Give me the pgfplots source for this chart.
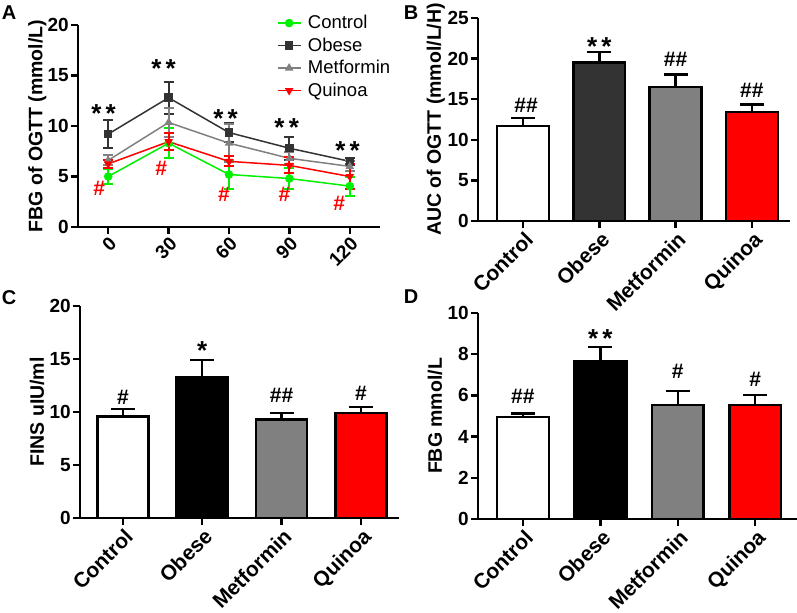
\documentclass[border=0pt]{standalone}
\usepackage{fontspec}
\setmainfont{Liberation Sans}
\usepackage{pgfplots}
\pgfplotsset{compat=1.18}
\definecolor{cgreen}{RGB}{0,240,0}
\definecolor{cobese}{RGB}{51,51,51}
\definecolor{cmet}{RGB}{128,128,128}
\definecolor{cred}{RGB}{255,0,0}
\newcommand{\tf}{\bfseries\fontsize{19bp}{21bp}\selectfont}
\newcommand{\hf}{\bfseries\fontsize{21bp}{23bp}\selectfont}
\newcommand{\lf}{\bfseries\fontsize{19.5bp}{21bp}\selectfont}
\newcommand{\cf}{\bfseries\fontsize{21bp}{23bp}\selectfont}
\newcommand{\af}{\bfseries\fontsize{26bp}{26bp}\selectfont}
\newcommand{\gf}{\fontsize{18.5bp}{20bp}\selectfont}
\pgfplotsset{
  panel/.style={
    scale only axis,
    axis x line*=bottom, axis y line*=left,
    axis line style={line width=2.5bp, black},
    tick style={line width=2.5bp, black},
    major tick length=7bp,
    tick align=outside,
    /pgf/number format/assume math mode=true,
    yticklabel style={font=\tf, inner sep=2bp},
    every axis y label/.style={at={(axis description cs:-0.135,0.5)}, rotate=90, anchor=center, font=\lf},
    clip=false,
  },
  barpanel/.style={
    panel,
    xtick={0,1,2,3},
    xticklabels={Control,Obese,Metformin,Quinoa},
    xticklabel style={font=\cf, rotate=45, anchor=north east, inner sep=1bp, yshift=-1bp},
  },
  bar/.style={ybar, bar shift=0pt, bar width=#1, draw=black, line width=2.5bp,
    error bars/y dir=plus, error bars/y explicit,
    error bars/error bar style={line width=2.5bp, black},
    error bars/error mark options={rotate=90, line width=2.5bp, black, mark size=12bp}},
  ser/.style={line width=1.5bp, mark size=3.5bp,
    error bars/y dir=both, error bars/y explicit,
    error bars/error bar style={line width=2bp},
    error bars/error mark options={rotate=90, line width=2bp, mark size=5bp}},
}
\begin{document}
\begin{tikzpicture}
\path[use as bounding box] (0,0) rectangle (797bp,-613bp);
% panel letters
\node[font=\bfseries\fontsize{20bp}{22bp}\selectfont] at (9bp,-13bp) {A};
\node[font=\bfseries\fontsize{20bp}{22bp}\selectfont] at (411bp,-13bp) {B};
\node[font=\bfseries\fontsize{20bp}{22bp}\selectfont] at (9bp,-298bp) {C};
\node[font=\bfseries\fontsize{20bp}{22bp}\selectfont] at (411bp,-297bp) {D};

% ---------- Panel A ----------
\begin{axis}[panel,
  at={(78bp,-227bp)}, anchor=south west, width=302bp, height=202bp,
  xmin=-15, xmax=135, ymin=0, ymax=20,
  xtick={0,30,60,90,120}, ytick={0,5,10,15,20},
  xticklabel style={font=\tf, rotate=45, anchor=north east, inner sep=1bp},
  ylabel={FBG of OGTT (mmol/L)},
  legend style={draw=none, fill=none, at={(0.658,1.055)}, anchor=north west,
    row sep=4.6bp, column sep=5bp, inner sep=0pt,
    nodes={inner sep=1.5bp}},
  legend cell align=left,
  legend image code/.code={\draw[mark repeat=2,mark phase=2,#1] plot coordinates {(0bp,0bp) (11.5bp,0bp) (23bp,0bp)};},
]
\addplot[ser, color=cgreen, mark=*] coordinates {
 (0,5.0) +- (0,0.7) (30,8.3) +- (0,1.5) (60,5.2) +- (0,1.4) (90,4.8) +- (0,1.0) (120,4.05) +- (0,0.95)};
\addlegendentry{\gf Control}
\addplot[ser, color=cobese, mark=square*] coordinates {
 (0,9.2) +- (0,1.35) (30,12.8) +- (0,1.6) (60,9.35) +- (0,0.9) (90,7.8) +- (0,1.15) (120,6.5) +- (0,0.35)};
\addlegendentry{\gf Obese}
\addplot[ser, color=cmet, mark=triangle*] coordinates {
 (0,6.6) +- (0,0.5) (30,10.35) +- (0,1.4) (60,8.3) +- (0,1.9) (90,6.8) +- (0,0.6) (120,6.0) +- (0,0.5)};
\addlegendentry{\gf Metformin}
\addplot[ser, color=cred, mark=triangle*, mark options={rotate=180}] coordinates {
 (0,6.25) +- (0,0.4) (30,8.45) +- (0,0.85) (60,6.5) +- (0,0.5) (90,6.1) +- (0,0.8) (120,5.0) +- (0,1.2)};
\addlegendentry{\gf Quinoa}
\node[font=\af] at (axis cs:-2.3,11.2) {*\,*};
\node[font=\af] at (axis cs:27.5,15.7) {*\,*};
\node[font=\af] at (axis cs:58.3,10.7) {*\,*};
\node[font=\af] at (axis cs:88.7,9.8) {*\,*};
\node[font=\af] at (axis cs:118.9,7.6) {*\,*};
\node[font=\hf, text=cred] at (axis cs:-4.5,3.8) {\#};
\node[font=\hf, text=cred] at (axis cs:26.3,5.8) {\#};
\node[font=\hf, text=cred] at (axis cs:57.5,3.2) {\#};
\node[font=\hf, text=cred] at (axis cs:87.5,3.2) {\#};
\node[font=\hf, text=cred] at (axis cs:114.7,2.35) {\#};
\end{axis}

% ---------- Panel B ----------
\begin{axis}[barpanel,
  at={(478bp,-221bp)}, anchor=south west, width=312bp, height=203bp,
  xmin=-0.59, xmax=3.5, ymin=0, ymax=25, ytick={0,5,...,25},
  ylabel={AUC of OGTT (mmol/L/H)},
]
\addplot[bar=0.68, fill=white] coordinates {(0,11.7) +- (0,1.0)};
\addplot[bar=0.68, fill=cobese] coordinates {(1,19.5) +- (0,1.3)};
\addplot[bar=0.68, fill=cmet] coordinates {(2,16.5) +- (0,1.55)};
\addplot[bar=0.68, fill=cred] coordinates {(3,13.4) +- (0,0.95)};
\node[font=\hf] at (axis cs:0.04,14.3) {\#\#};
\node[font=\af] at (axis cs:1,21.5) {*\,*};
\node[font=\hf] at (axis cs:2,19.9) {\#\#};
\node[font=\hf] at (axis cs:3,16.1) {\#\#};
\end{axis}

% ---------- Panel C ----------
\begin{axis}[barpanel,
  at={(80bp,-518bp)}, anchor=south west, width=319bp, height=212bp,
  xmin=-0.54, xmax=3.48, ymin=0, ymax=20, ytick={0,5,...,20},
  ylabel={FINS uIU/ml},
]
\addplot[bar=0.645, fill=white] coordinates {(0,9.58) +- (0,0.72)};
\addplot[bar=0.645, fill=black] coordinates {(1,13.25) +- (0,1.65)};
\addplot[bar=0.645, fill=cmet] coordinates {(2,9.3) +- (0,0.6)};
\addplot[bar=0.645, fill=cred] coordinates {(3,9.9) +- (0,0.55)};
\node[font=\hf] at (axis cs:0,11.4) {\#};
\node[font=\af] at (axis cs:1,15.8) {*};
\node[font=\hf] at (axis cs:2,11.6) {\#\#};
\node[font=\hf] at (axis cs:3,11.8) {\#};
\end{axis}

% ---------- Panel D ----------
\begin{axis}[barpanel,
  at={(478bp,-519bp)}, anchor=south west, width=319bp, height=206bp,
  xmin=-0.58, xmax=3.54, ymin=0, ymax=10, ytick={0,2,...,10},
  ylabel={FBG mmol/L},
]
\addplot[bar=0.67, fill=white] coordinates {(0,4.94) +- (0,0.19)};
\addplot[bar=0.67, fill=black] coordinates {(1,7.68) +- (0,0.67)};
\addplot[bar=0.67, fill=cmet] coordinates {(2,5.53) +- (0,0.68)};
\addplot[bar=0.67, fill=cred] coordinates {(3,5.53) +- (0,0.49)};
\node[font=\hf] at (axis cs:0,5.94) {\#\#};
\node[font=\af] at (axis cs:1,8.75) {*\,*};
\node[font=\hf] at (axis cs:2,7.15) {\#};
\node[font=\hf] at (axis cs:3,6.78) {\#};
\end{axis}
\end{tikzpicture}
\end{document}
